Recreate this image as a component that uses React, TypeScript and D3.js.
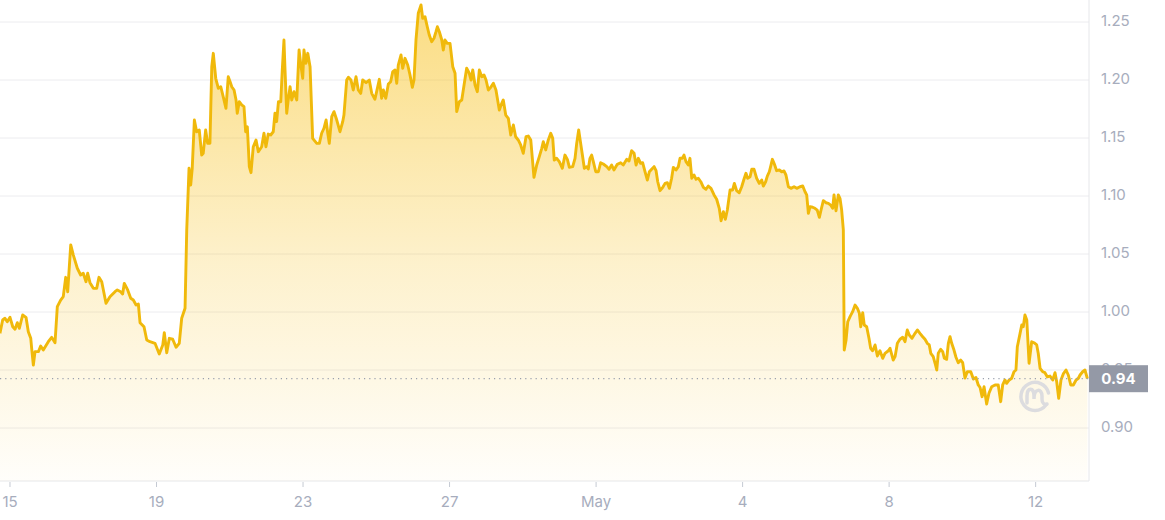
import React from 'react';
import * as d3 from 'd3';

// [hours since Apr 15 00:00, price]
const priceSeries: [number, number][] = [
  [-6.6, 0.9816], [-4.8, 0.9931], [-3.3, 0.9946], [-1.8, 0.9916], [0, 0.9954], [1.8, 0.9873], [3.3, 0.9851], [4.8, 0.9908],
  [6.1, 0.9859], [8.3, 0.9974], [10.5, 0.9954], [12.0, 0.983], [13.6, 0.9773], [14.2, 0.9687], [15.3, 0.9543], [16.4, 0.9658],
  [18.6, 0.9658], [20.1, 0.9707], [21.8, 0.9672], [25.1, 0.9744], [27.3, 0.9782], [29.5, 0.9735], [31.0, 1.0046], [33.2, 1.0103],
  [34.9, 1.0132], [36.5, 1.0299], [37.8, 1.0175], [39.8, 1.0578], [41.5, 1.0491], [44.1, 1.0377], [46.3, 1.0319], [48.0, 1.0334],
  [49.8, 1.0261], [50.9, 1.0334], [52.4, 1.0253], [54.6, 1.0204], [56.8, 1.0204], [58.3, 1.0299], [60.1, 1.0261], [62.9, 1.0075],
  [65.5, 1.0132], [68.8, 1.0175], [70.3, 1.019], [72.5, 1.0175], [73.8, 1.0155], [74.9, 1.0247], [77.1, 1.019], [79.1, 1.0118],
  [80.8, 1.0103], [82.6, 1.006], [84.1, 1.0069], [85.2, 0.9908], [87.8, 0.9873], [89.6, 0.9759], [91.7, 0.9744],
  [95.0, 0.973], [97.8, 0.9638], [100.1, 0.9716], [101.1, 0.9822], [102.7, 0.9649], [104.4, 0.9773], [106.6, 0.9765], [108.8, 0.9696],
  [110.9, 0.973], [112.5, 0.9946], [114.7, 1.0032], [115.8, 1.0707], [117.3, 1.1239], [118.4, 1.1095], [119.4, 1.1239], [120.8, 1.1655],
  [122.3, 1.1554], [124.0, 1.1569], [125.6, 1.1353], [126.6, 1.1368], [128.2, 1.1569], [129.5, 1.1454], [131.0, 1.1454], [132.2, 1.2115],
  [133.2, 1.223], [134.8, 1.2015], [136.5, 1.1928], [138.1, 1.1942], [140.2, 1.1828], [141.5, 1.1756], [143.0, 1.2028], [144.2, 1.1985],
  [145.3, 1.1942], [146.8, 1.1914], [148.1, 1.1828], [148.9, 1.1713], [150.2, 1.1813], [151.8, 1.1785], [153.3, 1.177], [154.4, 1.1554],
  [155.5, 1.1597], [156.8, 1.1253], [157.9, 1.1201], [159.4, 1.1425], [161.2, 1.1483], [162.7, 1.1382], [164.9, 1.1425], [166.4, 1.1541],
  [167.7, 1.1425], [169.2, 1.1534], [170.8, 1.1526], [172.5, 1.1554], [173.6, 1.1713], [174.7, 1.1641], [175.9, 1.1813], [177.4, 1.1813],
  [178.4, 1.2086], [179.5, 1.2345], [180.2, 1.2086], [181.3, 1.1713], [182.3, 1.1828], [183.5, 1.1942], [184.6, 1.1828], [186.1, 1.1899],
  [187.9, 1.1828], [189.4, 1.2259], [190.7, 1.2115], [191.8, 1.2015], [192.6, 1.2259], [193.9, 1.2144], [195.1, 1.223], [196.6, 1.2115],
  [198.3, 1.1497], [201.0, 1.1454], [202.7, 1.1454], [204.2, 1.1541], [205.7, 1.1584], [207.1, 1.1655], [208.2, 1.1541], [209.2, 1.1454],
  [210.8, 1.1684], [212.3, 1.1727], [214.1, 1.1655], [216.2, 1.1554], [218.0, 1.1641], [218.8, 1.1698], [220.6, 1.2], [221.7, 1.2023],
  [223.4, 1.2], [224.9, 1.1914], [226.7, 1.2028], [228.2, 1.1914], [229.8, 1.1885], [231.1, 1.2], [233.3, 1.1977], [235.4, 1.2],
  [237.0, 1.1885], [239.1, 1.1834], [240.7, 1.1928], [242.0, 1.2006], [243.5, 1.1842], [244.6, 1.1914], [246.2, 1.1842], [247.9, 1.1966],
  [249.4, 1.1985], [250.8, 1.2072], [252.3, 1.2086], [253.4, 1.1972], [254.4, 1.2129], [256.2, 1.2216], [257.3, 1.2101], [258.8, 1.2187],
  [260.6, 1.2129], [262.1, 1.2043], [263.6, 1.1937], [264.7, 1.2], [266.0, 1.2345], [267.5, 1.2575], [269.3, 1.2647], [270.4, 1.2532],
  [271.9, 1.2546], [273.4, 1.2459], [274.7, 1.2388], [276.3, 1.233], [277.8, 1.236], [279.1, 1.2416], [280.0, 1.2459], [281.3, 1.2416],
  [282.9, 1.2345], [283.9, 1.2259], [285.0, 1.2345], [286.5, 1.2316], [288.3, 1.2316], [290.1, 1.2115], [291.6, 1.2058], [292.7, 1.1727],
  [294.4, 1.1813], [296.0, 1.1828], [297.5, 1.1957], [299.2, 1.2101], [300.9, 1.2058], [302.1, 1.2], [303.2, 1.2086], [304.7, 1.1957],
  [306.2, 1.1899], [307.5, 1.2086], [309.1, 1.2028], [310.6, 1.2043], [311.9, 1.2], [313.4, 1.1914], [315.0, 1.1937], [316.7, 1.1972],
  [318.4, 1.1914], [320.6, 1.1741], [322.2, 1.1799], [323.2, 1.1828], [324.8, 1.1698], [326.5, 1.167], [328.1, 1.1526], [329.8, 1.1612],
  [331.3, 1.1511], [333.0, 1.1483], [334.6, 1.144], [336.3, 1.1368], [338.1, 1.1511], [339.6, 1.1517], [341.2, 1.1483], [343.3, 1.1161],
  [345.1, 1.1267], [346.8, 1.1339], [348.4, 1.1411], [349.4, 1.1468], [351.0, 1.1397], [352.7, 1.1483], [354.3, 1.1541], [355.6, 1.1497],
  [356.6, 1.131], [358.2, 1.1325], [359.9, 1.1296], [361.9, 1.1239], [363.6, 1.1353], [365.2, 1.1316], [366.5, 1.1247], [368.7, 1.1253],
  [370.2, 1.1325], [371.3, 1.1454], [372.6, 1.1569], [373.9, 1.1454], [375.2, 1.1339], [376.3, 1.1239], [377.9, 1.1253], [378.9, 1.1233],
  [380.0, 1.1325], [381.1, 1.1353], [382.2, 1.1296], [383.8, 1.1209], [385.5, 1.1209], [387.0, 1.1287], [388.7, 1.1276], [391.0, 1.1253],
  [392.5, 1.123], [394.2, 1.1267], [395.7, 1.1224], [397.9, 1.1273], [400.1, 1.1287], [401.8, 1.1267], [404.1, 1.1316], [405.6, 1.1302],
  [407.3, 1.1391], [408.9, 1.1368], [410.2, 1.1267], [411.7, 1.1325], [413.2, 1.1282], [414.5, 1.1287], [416.1, 1.1209], [417.6, 1.1138],
  [418.9, 1.1209], [420.4, 1.123], [422.0, 1.1253], [423.3, 1.1218], [424.4, 1.1123], [425.9, 1.1046], [427.7, 1.1075], [429.2, 1.1109],
  [430.7, 1.1115], [432.0, 1.1066], [433.5, 1.1153], [434.6, 1.1247], [436.4, 1.1224], [437.9, 1.1253], [439.0, 1.1325], [440.5, 1.1325],
  [441.6, 1.1353], [442.9, 1.1296], [444.4, 1.1267], [445.5, 1.1325], [446.7, 1.1153], [448.2, 1.1181], [449.5, 1.1144], [451.0, 1.1153],
  [452.6, 1.1123], [454.3, 1.1075], [456.0, 1.1058], [457.5, 1.1086], [459.3, 1.1066], [461.3, 1.1009], [463.0, 1.0972], [464.7, 1.0894],
  [465.9, 1.0787], [467.4, 1.0865], [468.7, 1.0799], [470.0, 1.0879], [470.6, 1.0937], [471.8, 1.1052], [473.5, 1.1052], [474.6, 1.1109],
  [476.1, 1.1046], [477.8, 1.1028], [479.4, 1.108], [480.9, 1.1144], [482.2, 1.1196], [483.3, 1.1153], [484.9, 1.1166], [486.0, 1.123],
  [487.5, 1.123], [489.2, 1.1153], [490.9, 1.1109], [492.5, 1.1138], [493.6, 1.1086], [495.1, 1.1123], [496.2, 1.1172], [497.5, 1.1209],
  [498.6, 1.1267], [499.5, 1.1316], [500.8, 1.1276], [502.3, 1.1218], [504.1, 1.1224], [505.6, 1.1209], [507.1, 1.1216], [508.4, 1.1181],
  [510.0, 1.108], [511.7, 1.1066], [513.7, 1.108], [515.5, 1.1066], [517.6, 1.108], [519.4, 1.1086], [520.9, 1.1037], [522.0, 1.1009],
  [523.1, 1.0851], [524.2, 1.0908], [525.9, 1.0903], [527.4, 1.0894], [528.9, 1.0879], [530.3, 1.0816], [531.4, 1.0879], [532.9, 1.096],
  [534.6, 1.0942], [536.2, 1.0937], [537.7, 1.0922], [539.0, 1.0894], [539.9, 1.1009], [541.2, 1.0873], [542.7, 1.1009], [543.8, 1.098],
  [544.9, 1.0879], [546.0, 1.0707], [546.6, 0.9672], [547.8, 0.9759], [548.9, 0.9916], [550.4, 0.996], [552.1, 1.0003], [553.7, 1.006],
  [555.2, 1.0032], [556.5, 0.9989], [557.4, 0.9873], [558.7, 0.9994], [559.7, 0.9888], [561.3, 0.9873], [562.8, 0.9773], [563.9, 0.9687],
  [565.2, 0.9666], [566.8, 0.9716], [568.3, 0.9621], [570.0, 0.9666], [571.8, 0.9601], [573.3, 0.9644], [575.5, 0.9666], [576.6, 0.9687],
  [578.7, 0.9586], [579.9, 0.9615], [581.4, 0.973], [583.1, 0.9765], [584.9, 0.9782], [586.4, 0.9744], [587.9, 0.9845], [589.2, 0.9802],
  [591.0, 0.9773], [593.0, 0.9816], [594.5, 0.9845], [596.2, 0.9816], [598.0, 0.9787], [599.5, 0.9765], [601.0, 0.973], [602.3, 0.9716],
  [603.3, 0.9644], [604.9, 0.9615], [606.1, 0.9558], [607.2, 0.95], [608.2, 0.9644], [609.8, 0.9678], [611.1, 0.9658], [612.2, 0.9601],
  [613.7, 0.9592], [614.8, 0.973], [615.9, 0.9787], [617.0, 0.973], [618.5, 0.9672], [619.8, 0.961], [621.3, 0.9563], [622.9, 0.9586],
  [624.2, 0.9563], [625.7, 0.9431], [627.2, 0.9485], [629.5, 0.9485], [631.2, 0.9422], [632.9, 0.9435], [634.4, 0.9371], [635.6, 0.9349],
  [636.9, 0.927], [638.2, 0.9356], [639.9, 0.9207], [641.4, 0.9299], [643.2, 0.9356], [645.4, 0.9371], [647.5, 0.9371], [649.1, 0.9227],
  [650.4, 0.9371], [651.9, 0.9414], [653.0, 0.9385], [654.7, 0.9414], [656.3, 0.9429], [657.8, 0.9485], [659.1, 0.95], [660.0, 0.9701],
  [661.8, 0.9816], [662.9, 0.9888], [663.9, 0.9873], [665.0, 0.9974], [666.2, 0.9931], [667.7, 0.9558], [669.4, 0.9744], [670.9, 0.9735],
  [672.7, 0.9716], [673.7, 0.9644], [674.9, 0.9515], [676.6, 0.9485], [678.1, 0.9477], [679.6, 0.9442], [681.4, 0.9448], [683.2, 0.9414],
  [684.7, 0.9477], [685.8, 0.9399], [687.1, 0.9256], [688.6, 0.9414], [690.1, 0.9466], [691.9, 0.95], [693.4, 0.9457], [695.0, 0.9371],
  [696.7, 0.9371], [698.5, 0.9414], [700.0, 0.9429], [701.1, 0.9457], [702.8, 0.9485], [704.3, 0.95], [705.9, 0.9425],
];

const tickDays = [0, 4, 8, 12, 16, 20, 24, 28];
const tickLabels = ['15', '19', '23', '27', 'May', '4', '8', '12'];
const priceTicks = [0.9, 0.95, 1.0, 1.05, 1.1, 1.15, 1.2, 1.25];
const lastPriceLabel = '0.94';

const width = 1165;
const height = 520;
const plotRight = 1089;
const plotBottom = 481;
const font = "Inter, 'Noto Sans', sans-serif";

export default function App() {
  const x = d3.scaleLinear().domain([-6.55, 706.96]).range([0, plotRight]);
  const y = d3.scaleLinear().domain([0.85431, 1.26897]).range([plotBottom, 0]);

  const line = d3.line<[number, number]>()
    .x(d => x(d[0]))
    .y(d => y(d[1]));
  const area = d3.area<[number, number]>()
    .x(d => x(d[0]))
    .y0(plotBottom)
    .y1(d => y(d[1]));

  const lastY = y(priceSeries[priceSeries.length - 1][1]);

  return (
    <div style={{ position: 'absolute', left: 0, top: 0 }}>
      <svg width={width} height={height} style={{ display: 'block', fontFamily: font }}>
        <defs>
          <linearGradient id="fillGrad" gradientUnits="userSpaceOnUse" x1={0} y1={0} x2={0} y2={plotBottom}>
            <stop offset="0%" stopColor="#f7c01a" stopOpacity={0.55} />
            <stop offset="55%" stopColor="#f7c01a" stopOpacity={0.22} />
            <stop offset="100%" stopColor="#f7c01a" stopOpacity={0.02} />
          </linearGradient>
        </defs>

        {/* grid */}
        {priceTicks.map(t => (
          <line key={t} x1={0} x2={plotRight} y1={y(t)} y2={y(t)} stroke="#ececef" strokeWidth={1} />
        ))}
        <line x1={0} x2={plotRight} y1={plotBottom} y2={plotBottom} stroke="#e6e7ea" />
        <line x1={plotRight} x2={plotRight} y1={0} y2={plotBottom} stroke="#e6e7ea" />

        {/* x ticks */}
        {tickDays.map((d, i) => (
          <g key={d} transform={`translate(${x(d * 24)},0)`}>
            <line y1={plotBottom + 1} y2={plotBottom + 6} stroke="#c5cad3" />
            <text y={503} textAnchor="middle" dominantBaseline="middle" fontSize={15} fill="#a7adbd">
              {tickLabels[i]}
            </text>
          </g>
        ))}

        {/* y labels */}
        {priceTicks.map(t => (
          <text key={t} x={1101} y={y(t)} dominantBaseline="middle" fontSize={15} fill="#a7adbd">
            {t.toFixed(2)}
          </text>
        ))}

        <path d={area(priceSeries) || ''} fill="url(#fillGrad)" />

        {/* watermark */}
        <g transform="translate(1035,396)" fill="none" stroke="#dcdcdf" strokeWidth={3.5} strokeLinecap="round">
          <path d="M 11,9 A 14,14 0 1 1 13.5,-3" />
          <path d="M -8,7 L -8,0 C -8,-9 -1,-9 -1,0 L -1,3 C -1,-8 7,-8 7,0 L 7,3 C 7,7 9,9 12,8" />
        </g>

        <path d={line(priceSeries) || ''} fill="none" stroke="#f0b90b" strokeWidth={2.9} strokeLinejoin="round" />

        {/* last price */}
        <line x1={0} x2={plotRight} y1={lastY} y2={lastY} stroke="#9aa0ad" strokeWidth={1.2} strokeDasharray="1.2 4" />
        <rect x={plotRight} y={lastY - 13.5} width={59} height={27} fill="#9499a6" />
        <text x={plotRight + 29.5} y={lastY + 1} textAnchor="middle" dominantBaseline="middle" fontSize={15} fontWeight={700} fill="#ffffff">
          {lastPriceLabel}
        </text>
      </svg>
    </div>
  );
}
